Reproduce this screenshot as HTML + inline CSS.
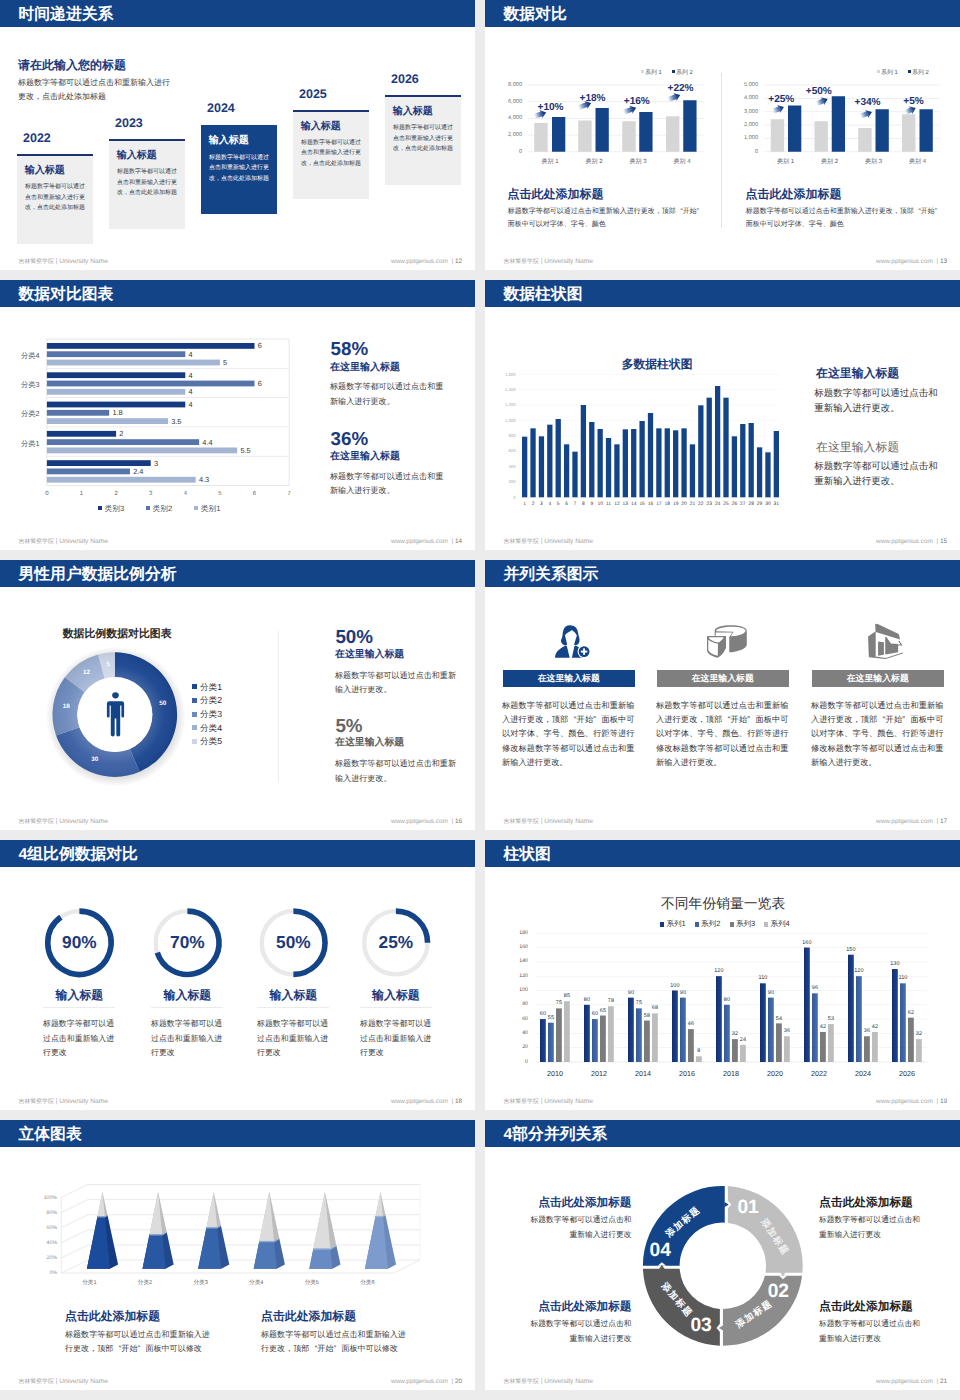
<!DOCTYPE html>
<html lang="zh"><head><meta charset="utf-8"><title>slides</title><style>
html,body{margin:0;padding:0}
body{width:960px;height:1400px;background:#ececec;position:relative;overflow:hidden;font-family:"Liberation Sans",sans-serif;text-rendering:geometricPrecision}
.s{position:absolute;width:475px;height:270px;background:#fff;overflow:hidden}
.h{position:absolute;left:0;top:0;width:475px;height:27px;background:#144488}
.t{position:absolute;white-space:nowrap}
.r{position:absolute}
.jl{text-align:justify;text-align-last:justify;white-space:nowrap}
.jn{white-space:nowrap}
.q{display:inline-block;width:1em}
.ql{text-align:right;text-align-last:right}
.qr{text-align:left;text-align-last:left}
svg{position:absolute;left:0;top:0;overflow:visible}
</style></head><body>
<div class="s" style="left:0px;top:0px"><div class="h"></div><div class="t" style="left:18.5px;top:4.88px;font-size:15.8px;line-height:20.54px;color:#fff;font-weight:bold;">时间递进关系</div><div class="t" style="left:18px;top:57.92px;font-size:12px;line-height:15.6px;color:#1b3a7c;font-weight:bold;">请在此输入您的标题</div><div class="t" style="left:18px;top:75.79px;font-size:8px;line-height:14.5px;color:#383838;">标题数字等都可以通过点击和重新输入进行<br>更改，点击此处添加标题</div><div class="t" style="left:23px;top:129.78px;font-size:12.5px;line-height:16.25px;color:#1b3a7c;font-weight:bold;">2022</div><div class="r" style="left:17px;top:154.5px;width:76px;height:89px;background:#efefef;"></div><div class="r" style="left:17px;top:153.9px;width:76px;height:2.1px;background:#1b3275;"></div><div class="t" style="left:24.8px;top:163.90px;font-size:10px;line-height:13.0px;color:#1b3a7c;font-weight:bold;">输入标题</div><div class="t" style="left:25px;top:182.03px;font-size:6px;line-height:10.5px;color:#3a3a3a;">标题数字等都可以通过<br>点击和重新输入进行更<br>改，点击此处添加标题</div><div class="t" style="left:115px;top:115.03px;font-size:12.5px;line-height:16.25px;color:#1b3a7c;font-weight:bold;">2023</div><div class="r" style="left:109px;top:139.75px;width:76px;height:89px;background:#efefef;"></div><div class="r" style="left:109px;top:139.15px;width:76px;height:2.1px;background:#1b3275;"></div><div class="t" style="left:116.8px;top:149.15px;font-size:10px;line-height:13.0px;color:#1b3a7c;font-weight:bold;">输入标题</div><div class="t" style="left:117px;top:167.28px;font-size:6px;line-height:10.5px;color:#3a3a3a;">标题数字等都可以通过<br>点击和重新输入进行更<br>改，点击此处添加标题</div><div class="t" style="left:207px;top:100.28px;font-size:12.5px;line-height:16.25px;color:#1b3a7c;font-weight:bold;">2024</div><div class="r" style="left:201px;top:124.5px;width:76px;height:89.5px;background:#144488;"></div><div class="t" style="left:208.8px;top:134.40px;font-size:10px;line-height:13.0px;color:#fff;font-weight:bold;">输入标题</div><div class="t" style="left:209px;top:152.53px;font-size:6px;line-height:10.5px;color:#fff;">标题数字等都可以通过<br>点击和重新输入进行更<br>改，点击此处添加标题</div><div class="t" style="left:299px;top:85.53px;font-size:12.5px;line-height:16.25px;color:#1b3a7c;font-weight:bold;">2025</div><div class="r" style="left:293px;top:110.25px;width:76px;height:89px;background:#efefef;"></div><div class="r" style="left:293px;top:109.65px;width:76px;height:2.1px;background:#1b3275;"></div><div class="t" style="left:300.8px;top:119.65px;font-size:10px;line-height:13.0px;color:#1b3a7c;font-weight:bold;">输入标题</div><div class="t" style="left:301px;top:137.78px;font-size:6px;line-height:10.5px;color:#3a3a3a;">标题数字等都可以通过<br>点击和重新输入进行更<br>改，点击此处添加标题</div><div class="t" style="left:391px;top:70.78px;font-size:12.5px;line-height:16.25px;color:#1b3a7c;font-weight:bold;">2026</div><div class="r" style="left:385px;top:95.5px;width:76px;height:89px;background:#efefef;"></div><div class="r" style="left:385px;top:94.9px;width:76px;height:2.1px;background:#1b3275;"></div><div class="t" style="left:392.8px;top:104.90px;font-size:10px;line-height:13.0px;color:#1b3a7c;font-weight:bold;">输入标题</div><div class="t" style="left:393px;top:123.03px;font-size:6px;line-height:10.5px;color:#3a3a3a;">标题数字等都可以通过<br>点击和重新输入进行更<br>改，点击此处添加标题</div><div class="t" style="left:18.5px;top:257.54px;font-size:6.65px;line-height:8.65px;color:#a3a3a3;"><span style="font-size:5.9px">吉林警察学院</span> | University Name</div><div class="t" style="left:362px;top:257.67px;font-size:6.4px;line-height:8.32px;color:#a6a6a6;width:100px;text-align:right;">www.pptgenius.com&nbsp; | <span style="color:#777">12</span></div></div>
<div class="s" style="left:485px;top:0px"><div class="h"></div><div class="t" style="left:18.5px;top:4.88px;font-size:15.8px;line-height:20.54px;color:#fff;font-weight:bold;">数据对比</div><div class="t" style="left:7px;top:82.06px;font-size:5.6px;line-height:7.28px;color:#747474;width:30px;text-align:right;">8,000</div><div class="t" style="left:7px;top:98.75px;font-size:5.6px;line-height:7.28px;color:#747474;width:30px;text-align:right;">6,000</div><div class="t" style="left:7px;top:115.44px;font-size:5.6px;line-height:7.28px;color:#747474;width:30px;text-align:right;">4,000</div><div class="t" style="left:7px;top:132.12px;font-size:5.6px;line-height:7.28px;color:#747474;width:30px;text-align:right;">2,000</div><div class="t" style="left:7px;top:148.81px;font-size:5.6px;line-height:7.28px;color:#747474;width:30px;text-align:right;">0</div><svg width="475" height="270"><rect x="43" y="84.70" width="175.75" height="0.7" fill="#e9e9e9"/><rect x="43" y="101.39" width="175.75" height="0.7" fill="#e9e9e9"/><rect x="43" y="118.08" width="175.75" height="0.7" fill="#e9e9e9"/><rect x="43" y="134.76" width="175.75" height="0.7" fill="#e9e9e9"/><rect x="43" y="151.45" width="175.75" height="0.7" fill="#e9e9e9"/><rect x="49.25" y="123" width="13.4" height="28.75" fill="#d6d6d6"/><rect x="67" y="117" width="13.3" height="34.75" fill="#144488"/><rect x="93.25" y="120.5" width="13.4" height="31.25" fill="#d6d6d6"/><rect x="110.5" y="108" width="13.3" height="43.75" fill="#144488"/><rect x="137.25" y="121.25" width="13.4" height="30.50" fill="#d6d6d6"/><rect x="154.25" y="112" width="13.3" height="39.75" fill="#144488"/><rect x="181" y="116.25" width="13.4" height="35.50" fill="#d6d6d6"/><rect x="198.25" y="100.25" width="13.3" height="51.50" fill="#144488"/><linearGradient id="ag00" gradientUnits="userSpaceOnUse" x1="0" y1="0" x2="12.21" y2="0"><stop offset="0" stop-color="#3a64ad" stop-opacity="0"/><stop offset="0.4" stop-color="#2f5ba6" stop-opacity="0.7"/><stop offset="0.75" stop-color="#1d4187"/><stop offset="1" stop-color="#132f70"/></linearGradient><polygon points="0.00,-2.50 7.01,-2.50 6.41,-4.30 12.21,0.00 6.41,4.30 7.01,2.50 0.00,2.50" fill="url(#ag00)" transform="translate(49.60,116.20) rotate(-18.1)"/><linearGradient id="ag01" gradientUnits="userSpaceOnUse" x1="0" y1="0" x2="13.48" y2="0"><stop offset="0" stop-color="#3a64ad" stop-opacity="0"/><stop offset="0.4" stop-color="#2f5ba6" stop-opacity="0.7"/><stop offset="0.75" stop-color="#1d4187"/><stop offset="1" stop-color="#132f70"/></linearGradient><polygon points="0.00,-2.50 8.28,-2.50 7.68,-4.30 13.48,0.00 7.68,4.30 8.28,2.50 0.00,2.50" fill="url(#ag01)" transform="translate(93.60,107.70) rotate(-20.9)"/><linearGradient id="ag02" gradientUnits="userSpaceOnUse" x1="0" y1="0" x2="13.48" y2="0"><stop offset="0" stop-color="#3a64ad" stop-opacity="0"/><stop offset="0.4" stop-color="#2f5ba6" stop-opacity="0.7"/><stop offset="0.75" stop-color="#1d4187"/><stop offset="1" stop-color="#132f70"/></linearGradient><polygon points="0.00,-2.50 8.28,-2.50 7.68,-4.30 13.48,0.00 7.68,4.30 8.28,2.50 0.00,2.50" fill="url(#ag02)" transform="translate(138.60,112.45) rotate(-20.9)"/><linearGradient id="ag03" gradientUnits="userSpaceOnUse" x1="0" y1="0" x2="13.02" y2="0"><stop offset="0" stop-color="#3a64ad" stop-opacity="0"/><stop offset="0.4" stop-color="#2f5ba6" stop-opacity="0.7"/><stop offset="0.75" stop-color="#1d4187"/><stop offset="1" stop-color="#132f70"/></linearGradient><polygon points="0.00,-2.50 7.82,-2.50 7.22,-4.30 13.02,0.00 7.22,4.30 7.82,2.50 0.00,2.50" fill="url(#ag03)" transform="translate(183.10,99.70) rotate(-21.6)"/></svg><div class="t" style="left:52.5px;top:100.98px;font-size:10.1px;line-height:13.13px;color:#1a3272;font-weight:bold;">+10%</div><div class="t" style="left:94.5px;top:91.73px;font-size:10.1px;line-height:13.13px;color:#1a3272;font-weight:bold;">+18%</div><div class="t" style="left:138.75px;top:94.98px;font-size:10.1px;line-height:13.13px;color:#1a3272;font-weight:bold;">+16%</div><div class="t" style="left:182.5px;top:82.23px;font-size:10.1px;line-height:13.13px;color:#1a3272;font-weight:bold;">+22%</div><div class="t" style="left:45px;top:159.48px;font-size:6px;line-height:7.8px;color:#5a5a5a;width:40px;text-align:center;">类别 1</div><div class="t" style="left:89px;top:159.48px;font-size:6px;line-height:7.8px;color:#5a5a5a;width:40px;text-align:center;">类别 2</div><div class="t" style="left:133px;top:159.48px;font-size:6px;line-height:7.8px;color:#5a5a5a;width:40px;text-align:center;">类别 3</div><div class="t" style="left:177px;top:159.48px;font-size:6px;line-height:7.8px;color:#5a5a5a;width:40px;text-align:center;">类别 4</div><div class="r" style="left:156px;top:70.2px;width:3px;height:3px;background:#d6d6d6;"></div><div class="t" style="left:160px;top:70.03px;font-size:5.9px;line-height:7.67px;color:#555;">系列 1</div><div class="r" style="left:187px;top:70.2px;width:3px;height:3px;background:#153570;"></div><div class="t" style="left:191px;top:70.03px;font-size:5.9px;line-height:7.67px;color:#555;">系列 2</div><div class="t" style="left:243px;top:82.06px;font-size:5.6px;line-height:7.28px;color:#747474;width:30px;text-align:right;">5,000</div><div class="t" style="left:243px;top:95.41px;font-size:5.6px;line-height:7.28px;color:#747474;width:30px;text-align:right;">4,000</div><div class="t" style="left:243px;top:108.76px;font-size:5.6px;line-height:7.28px;color:#747474;width:30px;text-align:right;">3,000</div><div class="t" style="left:243px;top:122.11px;font-size:5.6px;line-height:7.28px;color:#747474;width:30px;text-align:right;">2,000</div><div class="t" style="left:243px;top:135.46px;font-size:5.6px;line-height:7.28px;color:#747474;width:30px;text-align:right;">1,000</div><div class="t" style="left:243px;top:148.81px;font-size:5.6px;line-height:7.28px;color:#747474;width:30px;text-align:right;">0</div><svg width="475" height="270"><rect x="279.5" y="84.70" width="175.0" height="0.7" fill="#e9e9e9"/><rect x="279.5" y="98.05" width="175.0" height="0.7" fill="#e9e9e9"/><rect x="279.5" y="111.40" width="175.0" height="0.7" fill="#e9e9e9"/><rect x="279.5" y="124.75" width="175.0" height="0.7" fill="#e9e9e9"/><rect x="279.5" y="138.10" width="175.0" height="0.7" fill="#e9e9e9"/><rect x="279.5" y="151.45" width="175.0" height="0.7" fill="#e9e9e9"/><rect x="285.75" y="119.25" width="13.4" height="32.50" fill="#d6d6d6"/><rect x="303" y="105.5" width="13.3" height="46.25" fill="#144488"/><rect x="329.5" y="121.25" width="13.4" height="30.50" fill="#d6d6d6"/><rect x="346.75" y="96.25" width="13.3" height="55.50" fill="#144488"/><rect x="373.25" y="128" width="13.4" height="23.75" fill="#d6d6d6"/><rect x="390.5" y="109.25" width="13.3" height="42.50" fill="#144488"/><rect x="417" y="114.25" width="13.4" height="37.50" fill="#d6d6d6"/><rect x="434.5" y="109.25" width="13.3" height="42.50" fill="#144488"/><linearGradient id="ag2350" gradientUnits="userSpaceOnUse" x1="0" y1="0" x2="11.67" y2="0"><stop offset="0" stop-color="#3a64ad" stop-opacity="0"/><stop offset="0.4" stop-color="#2f5ba6" stop-opacity="0.7"/><stop offset="0.75" stop-color="#1d4187"/><stop offset="1" stop-color="#132f70"/></linearGradient><polygon points="0.00,-2.50 6.47,-2.50 5.87,-4.30 11.67,0.00 5.87,4.30 6.47,2.50 0.00,2.50" fill="url(#ag2350)" transform="translate(288.10,111.20) rotate(-21.6)"/><linearGradient id="ag2351" gradientUnits="userSpaceOnUse" x1="0" y1="0" x2="12.09" y2="0"><stop offset="0" stop-color="#3a64ad" stop-opacity="0"/><stop offset="0.4" stop-color="#2f5ba6" stop-opacity="0.7"/><stop offset="0.75" stop-color="#1d4187"/><stop offset="1" stop-color="#132f70"/></linearGradient><polygon points="0.00,-2.50 6.89,-2.50 6.29,-4.30 12.09,0.00 6.29,4.30 6.89,2.50 0.00,2.50" fill="url(#ag2351)" transform="translate(331.60,103.70) rotate(-23.4)"/><linearGradient id="ag2352" gradientUnits="userSpaceOnUse" x1="0" y1="0" x2="12.14" y2="0"><stop offset="0" stop-color="#3a64ad" stop-opacity="0"/><stop offset="0.4" stop-color="#2f5ba6" stop-opacity="0.7"/><stop offset="0.75" stop-color="#1d4187"/><stop offset="1" stop-color="#132f70"/></linearGradient><polygon points="0.00,-2.50 6.94,-2.50 6.34,-4.30 12.14,0.00 6.34,4.30 6.94,2.50 0.00,2.50" fill="url(#ag2352)" transform="translate(375.60,116.20) rotate(-20.7)"/><linearGradient id="ag2353" gradientUnits="userSpaceOnUse" x1="0" y1="0" x2="11.08" y2="0"><stop offset="0" stop-color="#3a64ad" stop-opacity="0"/><stop offset="0.4" stop-color="#2f5ba6" stop-opacity="0.7"/><stop offset="0.75" stop-color="#1d4187"/><stop offset="1" stop-color="#132f70"/></linearGradient><polygon points="0.00,-2.50 5.88,-2.50 5.28,-4.30 11.08,0.00 5.28,4.30 5.88,2.50 0.00,2.50" fill="url(#ag2353)" transform="translate(420.60,112.45) rotate(-24.3)"/></svg><div class="t" style="left:283.25px;top:92.73px;font-size:10.1px;line-height:13.13px;color:#1a3272;font-weight:bold;">+25%</div><div class="t" style="left:320.75px;top:85.48px;font-size:10.1px;line-height:13.13px;color:#1a3272;font-weight:bold;">+50%</div><div class="t" style="left:369.5px;top:96.48px;font-size:10.1px;line-height:13.13px;color:#1a3272;font-weight:bold;">+34%</div><div class="t" style="left:418.25px;top:95.48px;font-size:10.1px;line-height:13.13px;color:#1a3272;font-weight:bold;">+5%</div><div class="t" style="left:280.5px;top:159.48px;font-size:6px;line-height:7.8px;color:#5a5a5a;width:40px;text-align:center;">类别 1</div><div class="t" style="left:324.5px;top:159.48px;font-size:6px;line-height:7.8px;color:#5a5a5a;width:40px;text-align:center;">类别 2</div><div class="t" style="left:368.5px;top:159.48px;font-size:6px;line-height:7.8px;color:#5a5a5a;width:40px;text-align:center;">类别 3</div><div class="t" style="left:412.5px;top:159.48px;font-size:6px;line-height:7.8px;color:#5a5a5a;width:40px;text-align:center;">类别 4</div><div class="r" style="left:392px;top:70.2px;width:3px;height:3px;background:#d6d6d6;"></div><div class="t" style="left:396px;top:70.03px;font-size:5.9px;line-height:7.67px;color:#555;">系列 1</div><div class="r" style="left:422.5px;top:70.2px;width:3px;height:3px;background:#153570;"></div><div class="t" style="left:427px;top:70.03px;font-size:5.9px;line-height:7.67px;color:#555;">系列 2</div><div class="r" style="left:236px;top:72.5px;width:0.8px;height:155px;background:#e4e4e4;"></div><div class="t" style="left:22.5px;top:187.17px;font-size:12px;line-height:15.6px;color:#1b3a7c;font-weight:bold;">点击此处添加标题</div><div class="t" style="left:22.8px;top:204.78px;font-size:7px;line-height:13.25px;color:#383838;">标题数字等都可以通过点击和重新输入进行更改，顶部<span class="q ql">“</span>开始<span class="q qr">”</span><br>面板中可以对字体、字号、颜色</div><div class="t" style="left:260.5px;top:187.17px;font-size:12px;line-height:15.6px;color:#1b3a7c;font-weight:bold;">点击此处添加标题</div><div class="t" style="left:260.8px;top:204.78px;font-size:7px;line-height:13.25px;color:#383838;">标题数字等都可以通过点击和重新输入进行更改，顶部<span class="q ql">“</span>开始<span class="q qr">”</span><br>面板中可以对字体、字号、颜色</div><div class="t" style="left:18.5px;top:257.54px;font-size:6.65px;line-height:8.65px;color:#a3a3a3;"><span style="font-size:5.9px">吉林警察学院</span> | University Name</div><div class="t" style="left:362px;top:257.67px;font-size:6.4px;line-height:8.32px;color:#a6a6a6;width:100px;text-align:right;">www.pptgenius.com&nbsp; | <span style="color:#777">13</span></div></div>
<div class="s" style="left:0px;top:280px"><div class="h"></div><div class="t" style="left:18.5px;top:4.88px;font-size:15.8px;line-height:20.54px;color:#fff;font-weight:bold;">数据对比图表</div><svg width="475" height="270"><rect x="46.9" y="59" width="242.20" height="146.50" fill="#fff" stroke="#dcdcdc" stroke-width="0.7"/><rect x="46.9" y="87.95" width="242.20" height="0.7" fill="#e3e3e3"/><rect x="46.9" y="117.25" width="242.20" height="0.7" fill="#e3e3e3"/><rect x="46.9" y="146.55" width="242.20" height="0.7" fill="#e3e3e3"/><rect x="46.9" y="175.85" width="242.20" height="0.7" fill="#e3e3e3"/><rect x="46.9" y="63.00" width="207.60" height="5.8" fill="#153a80"/><rect x="46.9" y="71.30" width="138.40" height="5.8" fill="#5674aa"/><rect x="46.9" y="79.60" width="173.00" height="5.8" fill="#a4b4d3"/><rect x="46.9" y="92.30" width="138.40" height="5.8" fill="#153a80"/><rect x="46.9" y="100.60" width="207.60" height="5.8" fill="#5674aa"/><rect x="46.9" y="108.90" width="138.40" height="5.8" fill="#a4b4d3"/><rect x="46.9" y="121.60" width="138.40" height="5.8" fill="#153a80"/><rect x="46.9" y="129.90" width="62.28" height="5.8" fill="#5674aa"/><rect x="46.9" y="138.20" width="121.10" height="5.8" fill="#a4b4d3"/><rect x="46.9" y="150.90" width="69.20" height="5.8" fill="#153a80"/><rect x="46.9" y="159.20" width="152.24" height="5.8" fill="#5674aa"/><rect x="46.9" y="167.50" width="190.30" height="5.8" fill="#a4b4d3"/><rect x="46.9" y="180.20" width="103.80" height="5.8" fill="#153a80"/><rect x="46.9" y="188.50" width="83.04" height="5.8" fill="#5674aa"/><rect x="46.9" y="196.80" width="148.78" height="5.8" fill="#a4b4d3"/></svg><div class="t" style="left:0px;top:70.75px;font-size:7.3px;line-height:9.49px;color:#555;width:39.6px;text-align:right;">分类4</div><div class="t" style="left:257.70000000000005px;top:61.49px;font-size:7.4px;line-height:9.62px;color:#333;">6</div><div class="t" style="left:188.5px;top:69.79px;font-size:7.4px;line-height:9.62px;color:#333;">4</div><div class="t" style="left:223.1px;top:78.09px;font-size:7.4px;line-height:9.62px;color:#333;">5</div><div class="t" style="left:0px;top:100.05px;font-size:7.3px;line-height:9.49px;color:#555;width:39.6px;text-align:right;">分类3</div><div class="t" style="left:188.5px;top:90.79px;font-size:7.4px;line-height:9.62px;color:#333;">4</div><div class="t" style="left:257.70000000000005px;top:99.09px;font-size:7.4px;line-height:9.62px;color:#333;">6</div><div class="t" style="left:188.5px;top:107.39px;font-size:7.4px;line-height:9.62px;color:#333;">4</div><div class="t" style="left:0px;top:129.35px;font-size:7.3px;line-height:9.49px;color:#555;width:39.6px;text-align:right;">分类2</div><div class="t" style="left:188.5px;top:120.09px;font-size:7.4px;line-height:9.62px;color:#333;">4</div><div class="t" style="left:112.38000000000001px;top:128.39px;font-size:7.4px;line-height:9.62px;color:#333;">1.8</div><div class="t" style="left:171.2px;top:136.69px;font-size:7.4px;line-height:9.62px;color:#333;">3.5</div><div class="t" style="left:0px;top:158.65px;font-size:7.3px;line-height:9.49px;color:#555;width:39.6px;text-align:right;">分类1</div><div class="t" style="left:119.3px;top:149.39px;font-size:7.4px;line-height:9.62px;color:#333;">2</div><div class="t" style="left:202.34px;top:157.69px;font-size:7.4px;line-height:9.62px;color:#333;">4.4</div><div class="t" style="left:240.4px;top:165.99px;font-size:7.4px;line-height:9.62px;color:#333;">5.5</div><div class="t" style="left:153.9px;top:178.69px;font-size:7.4px;line-height:9.62px;color:#333;">3</div><div class="t" style="left:133.14px;top:186.99px;font-size:7.4px;line-height:9.62px;color:#333;">2.4</div><div class="t" style="left:198.88px;top:195.29px;font-size:7.4px;line-height:9.62px;color:#333;">4.3</div><div class="t" style="left:36.9px;top:211.00px;font-size:6px;line-height:7.8px;color:#666;width:20px;text-align:center;">0</div><div class="t" style="left:71.5px;top:211.00px;font-size:6px;line-height:7.8px;color:#666;width:20px;text-align:center;">1</div><div class="t" style="left:106.1px;top:211.00px;font-size:6px;line-height:7.8px;color:#666;width:20px;text-align:center;">2</div><div class="t" style="left:140.70000000000002px;top:211.00px;font-size:6px;line-height:7.8px;color:#666;width:20px;text-align:center;">3</div><div class="t" style="left:175.3px;top:211.00px;font-size:6px;line-height:7.8px;color:#666;width:20px;text-align:center;">4</div><div class="t" style="left:209.9px;top:211.00px;font-size:6px;line-height:7.8px;color:#666;width:20px;text-align:center;">5</div><div class="t" style="left:244.50000000000003px;top:211.00px;font-size:6px;line-height:7.8px;color:#666;width:20px;text-align:center;">6</div><div class="t" style="left:279.1px;top:211.00px;font-size:6px;line-height:7.8px;color:#666;width:20px;text-align:center;">7</div><div class="r" style="left:97.8px;top:226.2px;width:4.3px;height:4.3px;background:#153a80;"></div><div class="t" style="left:104.6px;top:223.80px;font-size:7.7px;line-height:10.01px;color:#4a4a4a;">类别3</div><div class="r" style="left:145.6px;top:226.2px;width:4.3px;height:4.3px;background:#5674aa;"></div><div class="t" style="left:152.6px;top:223.80px;font-size:7.7px;line-height:10.01px;color:#4a4a4a;">类别2</div><div class="r" style="left:194px;top:226.2px;width:4.3px;height:4.3px;background:#a4b4d3;"></div><div class="t" style="left:200.79999999999998px;top:223.80px;font-size:7.7px;line-height:10.01px;color:#4a4a4a;">类别1</div><div class="t" style="left:330.5px;top:57.18px;font-size:18.8px;line-height:24.44px;color:#1b3a7c;font-weight:bold;">58%</div><div class="t" style="left:330px;top:80.70px;font-size:10px;line-height:13.0px;color:#1b3a7c;font-weight:bold;">在这里输入标题</div><div class="t" style="left:330px;top:100.30px;font-size:8.1px;line-height:14.5px;color:#383838;">标题数字等都可以通过点击和重<br>新输入进行更改。</div><div class="t" style="left:330.5px;top:147.48px;font-size:18.8px;line-height:24.44px;color:#1b3a7c;font-weight:bold;">36%</div><div class="t" style="left:330px;top:170.35px;font-size:10px;line-height:13.0px;color:#1b3a7c;font-weight:bold;">在这里输入标题</div><div class="t" style="left:330px;top:189.80px;font-size:8.1px;line-height:14.5px;color:#383838;">标题数字等都可以通过点击和重<br>新输入进行更改。</div><div class="t" style="left:18.5px;top:257.54px;font-size:6.65px;line-height:8.65px;color:#a3a3a3;"><span style="font-size:5.9px">吉林警察学院</span> | University Name</div><div class="t" style="left:362px;top:257.67px;font-size:6.4px;line-height:8.32px;color:#a6a6a6;width:100px;text-align:right;">www.pptgenius.com&nbsp; | <span style="color:#777">14</span></div></div>
<div class="s" style="left:485px;top:280px"><div class="h"></div><div class="t" style="left:18.5px;top:4.88px;font-size:15.8px;line-height:20.54px;color:#fff;font-weight:bold;">数据柱状图</div><svg width="475" height="270"><rect x="33.3" y="94.00" width="262" height="0.6" fill="#f6f6f6"/><rect x="33.3" y="109.38" width="262" height="0.6" fill="#f6f6f6"/><rect x="33.3" y="124.75" width="262" height="0.6" fill="#f6f6f6"/><rect x="33.3" y="140.12" width="262" height="0.6" fill="#f6f6f6"/><rect x="33.3" y="155.50" width="262" height="0.6" fill="#f6f6f6"/><rect x="33.3" y="170.88" width="262" height="0.6" fill="#f6f6f6"/><rect x="33.3" y="186.25" width="262" height="0.6" fill="#f6f6f6"/><rect x="33.3" y="201.62" width="262" height="0.6" fill="#f6f6f6"/><rect x="33.3" y="217.00" width="262" height="0.6" fill="#f6f6f6"/><rect x="37.00" y="156.67" width="5.3" height="60.63" fill="#144488"/><rect x="45.39" y="148.33" width="5.3" height="68.97" fill="#144488"/><rect x="53.78" y="156.33" width="5.3" height="60.97" fill="#144488"/><rect x="62.17" y="144.67" width="5.3" height="72.63" fill="#144488"/><rect x="70.56" y="139.00" width="5.3" height="78.30" fill="#144488"/><rect x="78.95" y="164.33" width="5.3" height="52.97" fill="#144488"/><rect x="87.34" y="171.67" width="5.3" height="45.63" fill="#144488"/><rect x="95.73" y="125.00" width="5.3" height="92.30" fill="#144488"/><rect x="104.12" y="142.00" width="5.3" height="75.30" fill="#144488"/><rect x="112.51" y="149.00" width="5.3" height="68.30" fill="#144488"/><rect x="120.90" y="158.00" width="5.3" height="59.30" fill="#144488"/><rect x="129.29" y="164.33" width="5.3" height="52.97" fill="#144488"/><rect x="137.68" y="149.33" width="5.3" height="67.97" fill="#144488"/><rect x="146.07" y="149.00" width="5.3" height="68.30" fill="#144488"/><rect x="154.46" y="141.00" width="5.3" height="76.30" fill="#144488"/><rect x="162.85" y="133.00" width="5.3" height="84.30" fill="#144488"/><rect x="171.24" y="148.33" width="5.3" height="68.97" fill="#144488"/><rect x="179.63" y="148.33" width="5.3" height="68.97" fill="#144488"/><rect x="188.02" y="150.33" width="5.3" height="66.97" fill="#144488"/><rect x="196.41" y="148.33" width="5.3" height="68.97" fill="#144488"/><rect x="204.80" y="164.33" width="5.3" height="52.97" fill="#144488"/><rect x="213.19" y="125.33" width="5.3" height="91.97" fill="#144488"/><rect x="221.58" y="117.67" width="5.3" height="99.63" fill="#144488"/><rect x="229.97" y="106.00" width="5.3" height="111.30" fill="#144488"/><rect x="238.36" y="117.67" width="5.3" height="99.63" fill="#144488"/><rect x="246.75" y="156.33" width="5.3" height="60.97" fill="#144488"/><rect x="255.14" y="144.00" width="5.3" height="73.30" fill="#144488"/><rect x="263.53" y="143.00" width="5.3" height="74.30" fill="#144488"/><rect x="271.92" y="167.33" width="5.3" height="49.97" fill="#144488"/><rect x="280.31" y="172.33" width="5.3" height="44.97" fill="#144488"/><rect x="288.70" y="151.00" width="5.3" height="66.30" fill="#144488"/></svg><div class="t" style="left:136.7px;top:77.34px;font-size:11.8px;line-height:15.34px;color:#1b3a7c;font-weight:bold;">多数据柱状图</div><div class="t" style="left:0px;top:91.57px;font-size:4.2px;line-height:5.46px;color:#a8a8a8;width:30.5px;text-align:right;">1,600</div><div class="t" style="left:0px;top:106.94px;font-size:4.2px;line-height:5.46px;color:#a8a8a8;width:30.5px;text-align:right;">1,400</div><div class="t" style="left:0px;top:122.32px;font-size:4.2px;line-height:5.46px;color:#a8a8a8;width:30.5px;text-align:right;">1,200</div><div class="t" style="left:0px;top:137.70px;font-size:4.2px;line-height:5.46px;color:#a8a8a8;width:30.5px;text-align:right;">1,000</div><div class="t" style="left:0px;top:153.07px;font-size:4.2px;line-height:5.46px;color:#a8a8a8;width:30.5px;text-align:right;">800</div><div class="t" style="left:0px;top:168.45px;font-size:4.2px;line-height:5.46px;color:#a8a8a8;width:30.5px;text-align:right;">600</div><div class="t" style="left:0px;top:183.82px;font-size:4.2px;line-height:5.46px;color:#a8a8a8;width:30.5px;text-align:right;">400</div><div class="t" style="left:0px;top:199.20px;font-size:4.2px;line-height:5.46px;color:#a8a8a8;width:30.5px;text-align:right;">200</div><div class="t" style="left:0px;top:214.57px;font-size:4.2px;line-height:5.46px;color:#a8a8a8;width:30.5px;text-align:right;">0</div><div class="t" style="left:33.65px;top:222.12px;font-size:4.9px;line-height:6.37px;color:#3a3a3a;width:12px;text-align:center;">1</div><div class="t" style="left:42.04px;top:222.12px;font-size:4.9px;line-height:6.37px;color:#3a3a3a;width:12px;text-align:center;">2</div><div class="t" style="left:50.43px;top:222.12px;font-size:4.9px;line-height:6.37px;color:#3a3a3a;width:12px;text-align:center;">3</div><div class="t" style="left:58.82000000000001px;top:222.12px;font-size:4.9px;line-height:6.37px;color:#3a3a3a;width:12px;text-align:center;">4</div><div class="t" style="left:67.21000000000001px;top:222.12px;font-size:4.9px;line-height:6.37px;color:#3a3a3a;width:12px;text-align:center;">5</div><div class="t" style="left:75.60000000000001px;top:222.12px;font-size:4.9px;line-height:6.37px;color:#3a3a3a;width:12px;text-align:center;">6</div><div class="t" style="left:83.99000000000001px;top:222.12px;font-size:4.9px;line-height:6.37px;color:#3a3a3a;width:12px;text-align:center;">7</div><div class="t" style="left:92.38000000000001px;top:222.12px;font-size:4.9px;line-height:6.37px;color:#3a3a3a;width:12px;text-align:center;">8</div><div class="t" style="left:100.77000000000001px;top:222.12px;font-size:4.9px;line-height:6.37px;color:#3a3a3a;width:12px;text-align:center;">9</div><div class="t" style="left:109.16000000000001px;top:222.12px;font-size:4.9px;line-height:6.37px;color:#3a3a3a;width:12px;text-align:center;">10</div><div class="t" style="left:117.55000000000001px;top:222.12px;font-size:4.9px;line-height:6.37px;color:#3a3a3a;width:12px;text-align:center;">11</div><div class="t" style="left:125.94000000000003px;top:222.12px;font-size:4.9px;line-height:6.37px;color:#3a3a3a;width:12px;text-align:center;">12</div><div class="t" style="left:134.33px;top:222.12px;font-size:4.9px;line-height:6.37px;color:#3a3a3a;width:12px;text-align:center;">13</div><div class="t" style="left:142.72px;top:222.12px;font-size:4.9px;line-height:6.37px;color:#3a3a3a;width:12px;text-align:center;">14</div><div class="t" style="left:151.11px;top:222.12px;font-size:4.9px;line-height:6.37px;color:#3a3a3a;width:12px;text-align:center;">15</div><div class="t" style="left:159.50000000000003px;top:222.12px;font-size:4.9px;line-height:6.37px;color:#3a3a3a;width:12px;text-align:center;">16</div><div class="t" style="left:167.89000000000001px;top:222.12px;font-size:4.9px;line-height:6.37px;color:#3a3a3a;width:12px;text-align:center;">17</div><div class="t" style="left:176.28px;top:222.12px;font-size:4.9px;line-height:6.37px;color:#3a3a3a;width:12px;text-align:center;">18</div><div class="t" style="left:184.67000000000002px;top:222.12px;font-size:4.9px;line-height:6.37px;color:#3a3a3a;width:12px;text-align:center;">19</div><div class="t" style="left:193.06000000000003px;top:222.12px;font-size:4.9px;line-height:6.37px;color:#3a3a3a;width:12px;text-align:center;">20</div><div class="t" style="left:201.45000000000002px;top:222.12px;font-size:4.9px;line-height:6.37px;color:#3a3a3a;width:12px;text-align:center;">21</div><div class="t" style="left:209.84px;top:222.12px;font-size:4.9px;line-height:6.37px;color:#3a3a3a;width:12px;text-align:center;">22</div><div class="t" style="left:218.23000000000002px;top:222.12px;font-size:4.9px;line-height:6.37px;color:#3a3a3a;width:12px;text-align:center;">23</div><div class="t" style="left:226.62000000000003px;top:222.12px;font-size:4.9px;line-height:6.37px;color:#3a3a3a;width:12px;text-align:center;">24</div><div class="t" style="left:235.01000000000002px;top:222.12px;font-size:4.9px;line-height:6.37px;color:#3a3a3a;width:12px;text-align:center;">25</div><div class="t" style="left:243.4px;top:222.12px;font-size:4.9px;line-height:6.37px;color:#3a3a3a;width:12px;text-align:center;">26</div><div class="t" style="left:251.79000000000002px;top:222.12px;font-size:4.9px;line-height:6.37px;color:#3a3a3a;width:12px;text-align:center;">27</div><div class="t" style="left:260.18px;top:222.12px;font-size:4.9px;line-height:6.37px;color:#3a3a3a;width:12px;text-align:center;">28</div><div class="t" style="left:268.57px;top:222.12px;font-size:4.9px;line-height:6.37px;color:#3a3a3a;width:12px;text-align:center;">29</div><div class="t" style="left:276.96px;top:222.12px;font-size:4.9px;line-height:6.37px;color:#3a3a3a;width:12px;text-align:center;">30</div><div class="t" style="left:285.35px;top:222.12px;font-size:4.9px;line-height:6.37px;color:#3a3a3a;width:12px;text-align:center;">31</div><div class="t" style="left:331px;top:85.78px;font-size:11.9px;line-height:15.47px;color:#1b3a7c;font-weight:bold;">在这里输入标题</div><div class="t" style="left:329.2px;top:105.69px;font-size:9.5px;line-height:15.7px;color:#333;">标题数字等都可以通过点击和<br>重新输入进行更改。</div><div class="t" style="left:331px;top:160.41px;font-size:11.9px;line-height:15.47px;color:#666;">在这里输入标题</div><div class="t" style="left:329.2px;top:178.59px;font-size:9.5px;line-height:15.7px;color:#333;">标题数字等都可以通过点击和<br>重新输入进行更改。</div><div class="t" style="left:18.5px;top:257.54px;font-size:6.65px;line-height:8.65px;color:#a3a3a3;"><span style="font-size:5.9px">吉林警察学院</span> | University Name</div><div class="t" style="left:362px;top:257.67px;font-size:6.4px;line-height:8.32px;color:#a6a6a6;width:100px;text-align:right;">www.pptgenius.com&nbsp; | <span style="color:#777">15</span></div></div>
<div class="s" style="left:0px;top:560px"><div class="h"></div><div class="t" style="left:18.5px;top:4.88px;font-size:15.8px;line-height:20.54px;color:#fff;font-weight:bold;">男性用户数据比例分析</div><div class="t" style="left:62.7px;top:67.07px;font-size:10.9px;line-height:14.17px;color:#2b2b2b;font-weight:bold;">数据比例数据对比图表</div><svg width="475" height="270"><defs><radialGradient id="dsh" gradientUnits="userSpaceOnUse" cx="115.8" cy="156.6" r="70"><stop offset="0.86" stop-color="#000" stop-opacity="0.13"/><stop offset="1" stop-color="#000" stop-opacity="0"/></radialGradient><radialGradient id="dhl" gradientUnits="userSpaceOnUse" cx="114.8" cy="154.6" r="62.3"><stop offset="0.6" stop-color="#fff" stop-opacity="0.16"/><stop offset="0.8" stop-color="#fff" stop-opacity="0.03"/><stop offset="1" stop-color="#000" stop-opacity="0.05"/></radialGradient><radialGradient id="dih" gradientUnits="userSpaceOnUse" cx="114.8" cy="154.6" r="40.0"><stop offset="0.86" stop-color="#000" stop-opacity="0"/><stop offset="1" stop-color="#000" stop-opacity="0.12"/></radialGradient></defs><circle cx="115.8" cy="156.6" r="70" fill="url(#dsh)"/><path d="M114.80,92.30 A62.3,62.3 0 0 1 139.62,211.74 L129.74,189.00 A37.5,37.5 0 0 0 114.80,117.10 Z" fill="#1b4690"/><path d="M139.62,211.74 A62.3,62.3 0 0 1 56.10,175.46 L79.47,167.16 A37.5,37.5 0 0 0 129.74,189.00 Z" fill="#3b60a4"/><path d="M56.10,175.46 A62.3,62.3 0 0 1 64.90,117.30 L84.77,132.15 A37.5,37.5 0 0 0 79.47,167.16 Z" fill="#6d8abd"/><path d="M64.90,117.30 A62.3,62.3 0 0 1 97.99,94.61 L104.68,118.49 A37.5,37.5 0 0 0 84.77,132.15 Z" fill="#9db0d2"/><path d="M97.99,94.61 A62.3,62.3 0 0 1 114.80,92.30 L114.80,117.10 A37.5,37.5 0 0 0 104.68,118.49 Z" fill="#cbd5e7"/><circle cx="114.8" cy="154.6" r="62.3" fill="url(#dhl)"/><circle cx="114.8" cy="154.6" r="37.5" fill="#fff"/><ellipse cx="115.5" cy="135.3" rx="3.3" ry="3.1" fill="#144488"/><path d="M109.3,141.2 h12.4 q2.4,0 2.4,2.4 v12.6 q0,1.4 -1.4,1.4 q-1.3,0 -1.3,-1.4 v-10.6 h-1.2 v29.2 q0,1.7 -2,1.7 q-1.9,0 -1.9,-1.7 v-16.4 h-1.6 v16.4 q0,1.7 -1.9,1.7 q-2,0 -2,-1.7 v-29.2 h-1.2 v10.6 q0,1.4 -1.3,1.4 q-1.4,0 -1.4,-1.4 v-12.6 q0,-2.4 2.4,-2.4 z" fill="#144488"/></svg><div class="t" style="left:152.7px;top:140.30px;font-size:6.3px;line-height:8.19px;color:#fff;font-weight:bold;width:20px;text-align:center;">50</div><div class="t" style="left:84.8px;top:196.30px;font-size:6.3px;line-height:8.19px;color:#fff;font-weight:bold;width:20px;text-align:center;">30</div><div class="t" style="left:56.2px;top:143.20px;font-size:6.3px;line-height:8.19px;color:#fff;font-weight:bold;width:20px;text-align:center;">18</div><div class="t" style="left:76.6px;top:109.41px;font-size:6.3px;line-height:8.19px;color:#fff;font-weight:bold;width:20px;text-align:center;">12</div><div class="t" style="left:97.9px;top:100.61px;font-size:6.3px;line-height:8.19px;color:#fff;font-weight:bold;width:20px;text-align:center;">5</div><div class="r" style="left:192.1px;top:124.3px;width:5px;height:5px;background:#1b4690;"></div><div class="t" style="left:199.9px;top:121.78px;font-size:8.7px;line-height:11.31px;color:#2e2e2e;">分类1</div><div class="r" style="left:192.1px;top:137.92px;width:5px;height:5px;background:#3b60a4;"></div><div class="t" style="left:199.9px;top:135.40px;font-size:8.7px;line-height:11.31px;color:#2e2e2e;">分类2</div><div class="r" style="left:192.1px;top:151.54px;width:5px;height:5px;background:#6d8abd;"></div><div class="t" style="left:199.9px;top:149.02px;font-size:8.7px;line-height:11.31px;color:#2e2e2e;">分类3</div><div class="r" style="left:192.1px;top:165.16px;width:5px;height:5px;background:#9db0d2;"></div><div class="t" style="left:199.9px;top:162.64px;font-size:8.7px;line-height:11.31px;color:#2e2e2e;">分类4</div><div class="r" style="left:192.1px;top:178.78px;width:5px;height:5px;background:#cbd5e7;"></div><div class="t" style="left:199.9px;top:176.26px;font-size:8.7px;line-height:11.31px;color:#2e2e2e;">分类5</div><div class="r" style="left:277.8px;top:71px;width:0.9px;height:152px;background:#ededed;"></div><div class="t" style="left:335.4px;top:64.78px;font-size:18.8px;line-height:24.44px;color:#1b3a7c;font-weight:bold;">50%</div><div class="t" style="left:335px;top:88.56px;font-size:9.9px;line-height:12.87px;color:#1b3a7c;font-weight:bold;">在这里输入标题</div><div class="t" style="left:335px;top:108.60px;font-size:8.07px;line-height:13.9px;color:#383838;">标题数字等都可以通过点击和重新<br>输入进行更改。</div><div class="t" style="left:335.4px;top:153.78px;font-size:18.8px;line-height:24.44px;color:#666;font-weight:bold;">5%</div><div class="t" style="left:335px;top:176.96px;font-size:9.9px;line-height:12.87px;color:#606060;font-weight:bold;">在这里输入标题</div><div class="t" style="left:335px;top:196.20px;font-size:8.07px;line-height:15.1px;color:#383838;">标题数字等都可以通过点击和重新<br>输入进行更改。</div><div class="t" style="left:18.5px;top:257.54px;font-size:6.65px;line-height:8.65px;color:#a3a3a3;"><span style="font-size:5.9px">吉林警察学院</span> | University Name</div><div class="t" style="left:362px;top:257.67px;font-size:6.4px;line-height:8.32px;color:#a6a6a6;width:100px;text-align:right;">www.pptgenius.com&nbsp; | <span style="color:#777">16</span></div></div>
<div class="s" style="left:485px;top:560px"><div class="h"></div><div class="t" style="left:18.5px;top:4.88px;font-size:15.8px;line-height:20.54px;color:#fff;font-weight:bold;">并列关系图示</div><svg width="475" height="270"><path d="M84.69,65.31 C78.75,65.31 77.81,71.25 77.50,75.62 C76.88,79.38 75.31,80.00 76.38,82.50 C77.81,85.31 80.62,86.25 82.19,84.38 L80.00,75.62 C80.62,73.12 85.00,71.88 86.88,70.00 C88.12,71.56 90.62,72.19 91.88,75.62 L89.06,84.38 C91.25,86.25 94.06,84.38 94.50,81.25 C95.00,78.75 93.44,75.62 93.12,73.12 C92.50,68.12 90.00,65.31 84.69,65.31 Z" fill="#144488"/><path d="M70.00,97.81 C70.31,92.50 72.50,90.00 80.62,85.62 L81.88,86.25 L84.69,97.81 Z" fill="#144488"/><path d="M86.88,97.81 L89.38,86.25 L90.62,85.62 C95.00,87.81 97.50,90.00 100.00,97.81 Z" fill="#144488"/><circle cx="99.06" cy="91.56" r="6.5" fill="#fff"/><circle cx="99.06" cy="91.56" r="5.4" fill="#144488"/><rect x="95.86" y="90.61" width="6.4" height="1.9" fill="#fff"/><rect x="98.11" y="88.36" width="1.9" height="6.4" fill="#fff"/><path d="M229.69,70.68 C229.69,63.39 261.77,63.39 261.77,70.68 L261.77,84.90 C261.04,89.27 250.83,91.82 244.27,92.33 L244.27,76.88 L247.55,72.50 L230.78,72.50 L230.78,75.78 L229.69,75.78 Z" fill="#7f7f7f"/><path d="M231.00,71.19 C231.88,65.21 260.31,65.21 260.61,70.68 C260.31,73.59 253.75,75.78 245.88,76.29 L248.65,71.63 Z" fill="#fff"/><path d="M222.03,75.93 L240.99,75.93 L240.99,87.81 C239.17,92.92 235.52,96.56 232.60,97.66 C226.77,96.56 222.76,93.65 222.03,90.73 Z" fill="#7f7f7f"/><path d="M223.27,79.79 C226.77,82.34 230.42,83.44 232.97,83.80 L232.75,95.83 C227.50,94.74 224.22,92.55 223.27,90.00 Z" fill="#fff"/><path d="M223.85,77.24 L238.80,77.24 C236.98,80.16 234.79,81.98 233.19,82.56 C229.69,82.13 226.04,80.16 223.85,78.19 Z" fill="#fff"/><path d="M390.16,64.33 L392.13,63.75 L413.71,74.10 L415.17,79.43 L390.67,71.92 Z" fill="#7f7f7f"/><path d="M383.08,76.51 L390.67,71.19 L390.67,98.02 L383.81,97.29 Z" fill="#7f7f7f"/><path d="M393.07,81.62 L398.91,82.13 L398.91,94.74 L393.07,95.83 Z" fill="#7f7f7f"/><path d="M400.22,76.88 L401.46,76.88 L405.83,83.58 L413.13,84.02 L413.13,92.33 L400.22,94.52 Z" fill="#7f7f7f"/><path d="M413.13,81.10 L414.58,80.96 L417.65,85.48 L413.13,85.48 L413.13,84.53 L415.68,84.53 Z" fill="#7f7f7f"/><path d="M390.67,96.56 L400.73,98.02 L417.87,92.55 L417.87,93.50 L400.73,99.04 L390.67,98.02 Z" fill="#7f7f7f"/></svg><div class="r" style="left:18px;top:110px;width:131.5px;height:16.6px;background:#144488;"></div><div class="t" style="left:18px;top:112.75px;font-size:8.9px;line-height:11.57px;color:#fff;font-weight:bold;width:131.5px;text-align:center;">在这里输入标题</div><div class="t j" style="left:17px;top:138.94px;width:132.5px;font-size:8.2px;line-height:14.25px;color:#333"><div class="jl">标题数字等都可以通过点击和重新输</div><div class="jl">入进行更改，顶部<span class="q ql">“</span>开始<span class="q qr">”</span>面板中可</div><div class="jl">以对字体、字号、颜色、行距等进行</div><div class="jl">修改标题数字等都可以通过点击和重</div><div class="jn">新输入进行更改。</div></div><div class="r" style="left:172px;top:110px;width:131.5px;height:16.6px;background:#7f7f7f;"></div><div class="t" style="left:172px;top:112.75px;font-size:8.9px;line-height:11.57px;color:#fff;font-weight:bold;width:131.5px;text-align:center;">在这里输入标题</div><div class="t j" style="left:171px;top:138.94px;width:132.5px;font-size:8.2px;line-height:14.25px;color:#333"><div class="jl">标题数字等都可以通过点击和重新输</div><div class="jl">入进行更改，顶部<span class="q ql">“</span>开始<span class="q qr">”</span>面板中可</div><div class="jl">以对字体、字号、颜色、行距等进行</div><div class="jl">修改标题数字等都可以通过点击和重</div><div class="jn">新输入进行更改。</div></div><div class="r" style="left:327px;top:110px;width:131.5px;height:16.6px;background:#7f7f7f;"></div><div class="t" style="left:327px;top:112.75px;font-size:8.9px;line-height:11.57px;color:#fff;font-weight:bold;width:131.5px;text-align:center;">在这里输入标题</div><div class="t j" style="left:326px;top:138.94px;width:132.5px;font-size:8.2px;line-height:14.25px;color:#333"><div class="jl">标题数字等都可以通过点击和重新输</div><div class="jl">入进行更改，顶部<span class="q ql">“</span>开始<span class="q qr">”</span>面板中可</div><div class="jl">以对字体、字号、颜色、行距等进行</div><div class="jl">修改标题数字等都可以通过点击和重</div><div class="jn">新输入进行更改。</div></div><div class="t" style="left:18.5px;top:257.54px;font-size:6.65px;line-height:8.65px;color:#a3a3a3;"><span style="font-size:5.9px">吉林警察学院</span> | University Name</div><div class="t" style="left:362px;top:257.67px;font-size:6.4px;line-height:8.32px;color:#a6a6a6;width:100px;text-align:right;">www.pptgenius.com&nbsp; | <span style="color:#777">17</span></div></div>
<div class="s" style="left:0px;top:840px"><div class="h"></div><div class="t" style="left:18.5px;top:4.88px;font-size:15.8px;line-height:20.54px;color:#fff;font-weight:bold;">4组比例数据对比</div><svg width="475" height="270"><circle cx="79.4" cy="102.75" r="31.65" fill="none" stroke="#e9e9e9" stroke-width="4.4"/><path d="M79.4,71.1 A31.65,31.65 0 1 1 60.80,77.14" fill="none" stroke="#144488" stroke-width="5.6"/><circle cx="187.4" cy="102.75" r="31.65" fill="none" stroke="#e9e9e9" stroke-width="4.4"/><path d="M187.4,71.1 A31.65,31.65 0 1 1 157.30,112.53" fill="none" stroke="#144488" stroke-width="5.6"/><circle cx="293.4" cy="102.75" r="31.65" fill="none" stroke="#e9e9e9" stroke-width="4.4"/><path d="M293.4,71.1 A31.65,31.65 0 0 1 293.40,134.40" fill="none" stroke="#144488" stroke-width="5.6"/><circle cx="395.9" cy="102.75" r="31.65" fill="none" stroke="#e9e9e9" stroke-width="4.4"/><path d="M395.9,71.1 A31.65,31.65 0 0 1 427.55,102.75" fill="none" stroke="#144488" stroke-width="5.6"/></svg><div class="t" style="left:49.400000000000006px;top:91.05px;font-size:17.3px;line-height:22.49px;color:#1b3a7c;font-weight:bold;width:60px;text-align:center;">90%</div><div class="t" style="left:39.400000000000006px;top:147.98px;font-size:11.9px;line-height:15.47px;color:#1b3a7c;font-weight:bold;width:80px;text-align:center;">输入标题</div><div class="r" style="left:43px;top:166.7px;width:72px;height:0.7px;background:#ebebeb;"></div><div class="t" style="left:43px;top:177.38px;font-size:7.92px;line-height:14.5px;color:#383838;">标题数字等都可以通<br>过点击和重新输入进<br>行更改</div><div class="t" style="left:157.4px;top:91.05px;font-size:17.3px;line-height:22.49px;color:#1b3a7c;font-weight:bold;width:60px;text-align:center;">70%</div><div class="t" style="left:147.4px;top:147.98px;font-size:11.9px;line-height:15.47px;color:#1b3a7c;font-weight:bold;width:80px;text-align:center;">输入标题</div><div class="r" style="left:151px;top:166.7px;width:72px;height:0.7px;background:#ebebeb;"></div><div class="t" style="left:151px;top:177.38px;font-size:7.92px;line-height:14.5px;color:#383838;">标题数字等都可以通<br>过点击和重新输入进<br>行更改</div><div class="t" style="left:263.4px;top:91.05px;font-size:17.3px;line-height:22.49px;color:#1b3a7c;font-weight:bold;width:60px;text-align:center;">50%</div><div class="t" style="left:253.39999999999998px;top:147.98px;font-size:11.9px;line-height:15.47px;color:#1b3a7c;font-weight:bold;width:80px;text-align:center;">输入标题</div><div class="r" style="left:257px;top:166.7px;width:72px;height:0.7px;background:#ebebeb;"></div><div class="t" style="left:257px;top:177.38px;font-size:7.92px;line-height:14.5px;color:#383838;">标题数字等都可以通<br>过点击和重新输入进<br>行更改</div><div class="t" style="left:365.9px;top:91.05px;font-size:17.3px;line-height:22.49px;color:#1b3a7c;font-weight:bold;width:60px;text-align:center;">25%</div><div class="t" style="left:355.9px;top:147.98px;font-size:11.9px;line-height:15.47px;color:#1b3a7c;font-weight:bold;width:80px;text-align:center;">输入标题</div><div class="r" style="left:360px;top:166.7px;width:72px;height:0.7px;background:#ebebeb;"></div><div class="t" style="left:360px;top:177.38px;font-size:7.92px;line-height:14.5px;color:#383838;">标题数字等都可以通<br>过点击和重新输入进<br>行更改</div><div class="t" style="left:18.5px;top:257.54px;font-size:6.65px;line-height:8.65px;color:#a3a3a3;"><span style="font-size:5.9px">吉林警察学院</span> | University Name</div><div class="t" style="left:362px;top:257.67px;font-size:6.4px;line-height:8.32px;color:#a6a6a6;width:100px;text-align:right;">www.pptgenius.com&nbsp; | <span style="color:#777">18</span></div></div>
<div class="s" style="left:485px;top:840px"><div class="h"></div><div class="t" style="left:18.5px;top:4.88px;font-size:15.8px;line-height:20.54px;color:#fff;font-weight:bold;">柱状图</div><svg width="475" height="270"><defs><linearGradient id="b8a" x1="0" y1="0" x2="1" y2="0"><stop offset="0" stop-color="#132f72"/><stop offset="1" stop-color="#1c4590"/></linearGradient><linearGradient id="b8b" x1="0" y1="0" x2="1" y2="0"><stop offset="0" stop-color="#355a9b"/><stop offset="1" stop-color="#4a6fac"/></linearGradient></defs><rect x="51" y="221.70" width="391.5" height="0.6" fill="#dcdcdc"/><rect x="51" y="207.39" width="391.5" height="0.6" fill="#efefef"/><rect x="51" y="193.09" width="391.5" height="0.6" fill="#efefef"/><rect x="51" y="178.78" width="391.5" height="0.6" fill="#efefef"/><rect x="51" y="164.48" width="391.5" height="0.6" fill="#efefef"/><rect x="51" y="150.17" width="391.5" height="0.6" fill="#efefef"/><rect x="51" y="135.86" width="391.5" height="0.6" fill="#efefef"/><rect x="51" y="121.56" width="391.5" height="0.6" fill="#efefef"/><rect x="51" y="107.25" width="391.5" height="0.6" fill="#efefef"/><rect x="51" y="92.95" width="391.5" height="0.6" fill="#efefef"/><rect x="55" y="179.08" width="5.8" height="42.92" fill="url(#b8a)"/><rect x="63" y="182.66" width="5.8" height="39.34" fill="url(#b8b)"/><rect x="71" y="168.35" width="5.8" height="53.65" fill="#7b7b7b"/><rect x="79" y="161.20" width="5.8" height="60.80" fill="#bdbdbd"/><rect x="99" y="164.78" width="5.8" height="57.22" fill="url(#b8a)"/><rect x="107" y="179.08" width="5.8" height="42.92" fill="url(#b8b)"/><rect x="115" y="175.51" width="5.8" height="46.49" fill="#7b7b7b"/><rect x="123" y="166.21" width="5.8" height="55.79" fill="#bdbdbd"/><rect x="143" y="157.62" width="5.8" height="64.38" fill="url(#b8a)"/><rect x="151" y="168.35" width="5.8" height="53.65" fill="url(#b8b)"/><rect x="159" y="180.51" width="5.8" height="41.49" fill="#7b7b7b"/><rect x="167" y="173.36" width="5.8" height="48.64" fill="#bdbdbd"/><rect x="187" y="150.47" width="5.8" height="71.53" fill="url(#b8a)"/><rect x="195" y="157.62" width="5.8" height="64.38" fill="url(#b8b)"/><rect x="203" y="189.10" width="5.8" height="32.90" fill="#7b7b7b"/><rect x="211" y="216.28" width="5.8" height="5.72" fill="#bdbdbd"/><rect x="231" y="136.16" width="5.8" height="85.84" fill="url(#b8a)"/><rect x="239" y="164.78" width="5.8" height="57.22" fill="url(#b8b)"/><rect x="247" y="199.11" width="5.8" height="22.89" fill="#7b7b7b"/><rect x="255" y="204.83" width="5.8" height="17.17" fill="#bdbdbd"/><rect x="275" y="143.32" width="5.8" height="78.68" fill="url(#b8a)"/><rect x="283" y="157.62" width="5.8" height="64.38" fill="url(#b8b)"/><rect x="291" y="183.37" width="5.8" height="38.63" fill="#7b7b7b"/><rect x="299" y="196.25" width="5.8" height="25.75" fill="#bdbdbd"/><rect x="319" y="107.55" width="5.8" height="114.45" fill="url(#b8a)"/><rect x="327" y="153.33" width="5.8" height="68.67" fill="url(#b8b)"/><rect x="335" y="191.96" width="5.8" height="30.04" fill="#7b7b7b"/><rect x="343" y="184.09" width="5.8" height="37.91" fill="#bdbdbd"/><rect x="363" y="114.70" width="5.8" height="107.30" fill="url(#b8a)"/><rect x="371" y="136.16" width="5.8" height="85.84" fill="url(#b8b)"/><rect x="379" y="196.25" width="5.8" height="25.75" fill="#7b7b7b"/><rect x="387" y="191.96" width="5.8" height="30.04" fill="#bdbdbd"/><rect x="407" y="129.01" width="5.8" height="92.99" fill="url(#b8a)"/><rect x="415" y="143.32" width="5.8" height="78.68" fill="url(#b8b)"/><rect x="423" y="177.65" width="5.8" height="44.35" fill="#7b7b7b"/><rect x="431" y="199.11" width="5.8" height="22.89" fill="#bdbdbd"/></svg><div class="t" style="left:176px;top:54.82px;font-size:13.8px;line-height:17.94px;color:#333;">不同年份销量一览表</div><div class="r" style="left:175px;top:82.3px;width:4.4px;height:4.4px;background:#17387f;"></div><div class="t" style="left:181.4px;top:79.45px;font-size:7.6px;line-height:9.88px;color:#383838;">系列1</div><div class="r" style="left:209.6px;top:82.3px;width:4.4px;height:4.4px;background:#3e63a1;"></div><div class="t" style="left:216.0px;top:79.45px;font-size:7.6px;line-height:9.88px;color:#383838;">系列2</div><div class="r" style="left:244.5px;top:82.3px;width:4.4px;height:4.4px;background:#7b7b7b;"></div><div class="t" style="left:250.9px;top:79.45px;font-size:7.6px;line-height:9.88px;color:#383838;">系列3</div><div class="r" style="left:279px;top:82.3px;width:4.4px;height:4.4px;background:#bdbdbd;"></div><div class="t" style="left:285.4px;top:79.45px;font-size:7.6px;line-height:9.88px;color:#383838;">系列4</div><div class="t" style="left:13px;top:218.62px;font-size:5.2px;line-height:6.76px;color:#555;width:30px;text-align:right;">0</div><div class="t" style="left:13px;top:204.31px;font-size:5.2px;line-height:6.76px;color:#555;width:30px;text-align:right;">20</div><div class="t" style="left:13px;top:190.01px;font-size:5.2px;line-height:6.76px;color:#555;width:30px;text-align:right;">40</div><div class="t" style="left:13px;top:175.70px;font-size:5.2px;line-height:6.76px;color:#555;width:30px;text-align:right;">60</div><div class="t" style="left:13px;top:161.40px;font-size:5.2px;line-height:6.76px;color:#555;width:30px;text-align:right;">80</div><div class="t" style="left:13px;top:147.09px;font-size:5.2px;line-height:6.76px;color:#555;width:30px;text-align:right;">100</div><div class="t" style="left:13px;top:132.78px;font-size:5.2px;line-height:6.76px;color:#555;width:30px;text-align:right;">120</div><div class="t" style="left:13px;top:118.48px;font-size:5.2px;line-height:6.76px;color:#555;width:30px;text-align:right;">140</div><div class="t" style="left:13px;top:104.17px;font-size:5.2px;line-height:6.76px;color:#555;width:30px;text-align:right;">160</div><div class="t" style="left:13px;top:89.87px;font-size:5.2px;line-height:6.76px;color:#555;width:30px;text-align:right;">180</div><div class="t" style="left:49.9px;top:171.21px;font-size:5.5px;line-height:7.15px;color:#333;width:16px;text-align:center;">60</div><div class="t" style="left:57.900000000000006px;top:174.78px;font-size:5.5px;line-height:7.15px;color:#333;width:16px;text-align:center;">55</div><div class="t" style="left:65.9px;top:160.48px;font-size:5.5px;line-height:7.15px;color:#333;width:16px;text-align:center;">75</div><div class="t" style="left:73.9px;top:153.32px;font-size:5.5px;line-height:7.15px;color:#333;width:16px;text-align:center;">85</div><div class="t" style="left:55px;top:228.72px;font-size:7.2px;line-height:9.36px;color:#333;width:30px;text-align:center;">2010</div><div class="t" style="left:93.9px;top:156.90px;font-size:5.5px;line-height:7.15px;color:#333;width:16px;text-align:center;">80</div><div class="t" style="left:101.9px;top:171.21px;font-size:5.5px;line-height:7.15px;color:#333;width:16px;text-align:center;">60</div><div class="t" style="left:109.9px;top:167.63px;font-size:5.5px;line-height:7.15px;color:#333;width:16px;text-align:center;">65</div><div class="t" style="left:117.9px;top:158.33px;font-size:5.5px;line-height:7.15px;color:#333;width:16px;text-align:center;">78</div><div class="t" style="left:99px;top:228.72px;font-size:7.2px;line-height:9.36px;color:#333;width:30px;text-align:center;">2012</div><div class="t" style="left:137.9px;top:149.75px;font-size:5.5px;line-height:7.15px;color:#333;width:16px;text-align:center;">90</div><div class="t" style="left:145.9px;top:160.48px;font-size:5.5px;line-height:7.15px;color:#333;width:16px;text-align:center;">75</div><div class="t" style="left:153.9px;top:172.64px;font-size:5.5px;line-height:7.15px;color:#333;width:16px;text-align:center;">58</div><div class="t" style="left:161.9px;top:165.48px;font-size:5.5px;line-height:7.15px;color:#333;width:16px;text-align:center;">68</div><div class="t" style="left:143px;top:228.72px;font-size:7.2px;line-height:9.36px;color:#333;width:30px;text-align:center;">2014</div><div class="t" style="left:181.9px;top:142.59px;font-size:5.5px;line-height:7.15px;color:#333;width:16px;text-align:center;">100</div><div class="t" style="left:189.9px;top:149.75px;font-size:5.5px;line-height:7.15px;color:#333;width:16px;text-align:center;">90</div><div class="t" style="left:197.9px;top:181.22px;font-size:5.5px;line-height:7.15px;color:#333;width:16px;text-align:center;">46</div><div class="t" style="left:205.9px;top:208.40px;font-size:5.5px;line-height:7.15px;color:#333;width:16px;text-align:center;">8</div><div class="t" style="left:187px;top:228.72px;font-size:7.2px;line-height:9.36px;color:#333;width:30px;text-align:center;">2016</div><div class="t" style="left:225.9px;top:128.29px;font-size:5.5px;line-height:7.15px;color:#333;width:16px;text-align:center;">120</div><div class="t" style="left:233.9px;top:156.90px;font-size:5.5px;line-height:7.15px;color:#333;width:16px;text-align:center;">80</div><div class="t" style="left:241.9px;top:191.24px;font-size:5.5px;line-height:7.15px;color:#333;width:16px;text-align:center;">32</div><div class="t" style="left:249.89999999999998px;top:196.96px;font-size:5.5px;line-height:7.15px;color:#333;width:16px;text-align:center;">24</div><div class="t" style="left:231px;top:228.72px;font-size:7.2px;line-height:9.36px;color:#333;width:30px;text-align:center;">2018</div><div class="t" style="left:269.9px;top:135.44px;font-size:5.5px;line-height:7.15px;color:#333;width:16px;text-align:center;">110</div><div class="t" style="left:277.9px;top:149.75px;font-size:5.5px;line-height:7.15px;color:#333;width:16px;text-align:center;">90</div><div class="t" style="left:285.9px;top:175.50px;font-size:5.5px;line-height:7.15px;color:#333;width:16px;text-align:center;">54</div><div class="t" style="left:293.9px;top:188.37px;font-size:5.5px;line-height:7.15px;color:#333;width:16px;text-align:center;">36</div><div class="t" style="left:275px;top:228.72px;font-size:7.2px;line-height:9.36px;color:#333;width:30px;text-align:center;">2020</div><div class="t" style="left:313.9px;top:99.68px;font-size:5.5px;line-height:7.15px;color:#333;width:16px;text-align:center;">160</div><div class="t" style="left:321.9px;top:145.46px;font-size:5.5px;line-height:7.15px;color:#333;width:16px;text-align:center;">96</div><div class="t" style="left:329.9px;top:184.08px;font-size:5.5px;line-height:7.15px;color:#333;width:16px;text-align:center;">42</div><div class="t" style="left:337.9px;top:176.21px;font-size:5.5px;line-height:7.15px;color:#333;width:16px;text-align:center;">53</div><div class="t" style="left:319px;top:228.72px;font-size:7.2px;line-height:9.36px;color:#333;width:30px;text-align:center;">2022</div><div class="t" style="left:357.9px;top:106.83px;font-size:5.5px;line-height:7.15px;color:#333;width:16px;text-align:center;">150</div><div class="t" style="left:365.9px;top:128.29px;font-size:5.5px;line-height:7.15px;color:#333;width:16px;text-align:center;">120</div><div class="t" style="left:373.9px;top:188.37px;font-size:5.5px;line-height:7.15px;color:#333;width:16px;text-align:center;">36</div><div class="t" style="left:381.9px;top:184.08px;font-size:5.5px;line-height:7.15px;color:#333;width:16px;text-align:center;">42</div><div class="t" style="left:363px;top:228.72px;font-size:7.2px;line-height:9.36px;color:#333;width:30px;text-align:center;">2024</div><div class="t" style="left:401.9px;top:121.14px;font-size:5.5px;line-height:7.15px;color:#333;width:16px;text-align:center;">130</div><div class="t" style="left:409.9px;top:135.44px;font-size:5.5px;line-height:7.15px;color:#333;width:16px;text-align:center;">110</div><div class="t" style="left:417.9px;top:169.78px;font-size:5.5px;line-height:7.15px;color:#333;width:16px;text-align:center;">62</div><div class="t" style="left:425.9px;top:191.24px;font-size:5.5px;line-height:7.15px;color:#333;width:16px;text-align:center;">32</div><div class="t" style="left:407px;top:228.72px;font-size:7.2px;line-height:9.36px;color:#333;width:30px;text-align:center;">2026</div><div class="t" style="left:18.5px;top:257.54px;font-size:6.65px;line-height:8.65px;color:#a3a3a3;"><span style="font-size:5.9px">吉林警察学院</span> | University Name</div><div class="t" style="left:362px;top:257.67px;font-size:6.4px;line-height:8.32px;color:#a6a6a6;width:100px;text-align:right;">www.pptgenius.com&nbsp; | <span style="color:#777">19</span></div></div>
<div class="s" style="left:0px;top:1120px"><div class="h"></div><div class="t" style="left:18.5px;top:4.88px;font-size:15.8px;line-height:20.54px;color:#fff;font-weight:bold;">立体图表</div><svg width="475" height="270"><line x1="88" y1="64.50" x2="420" y2="64.50" stroke="#e4e4e4" stroke-width="0.8"/><line x1="61.25" y1="77.50" x2="88" y2="64.50" stroke="#e4e4e4" stroke-width="0.8"/><line x1="88" y1="79.60" x2="420" y2="79.60" stroke="#e4e4e4" stroke-width="0.8"/><line x1="61.25" y1="92.60" x2="88" y2="79.60" stroke="#e4e4e4" stroke-width="0.8"/><line x1="88" y1="94.70" x2="420" y2="94.70" stroke="#e4e4e4" stroke-width="0.8"/><line x1="61.25" y1="107.70" x2="88" y2="94.70" stroke="#e4e4e4" stroke-width="0.8"/><line x1="88" y1="109.80" x2="420" y2="109.80" stroke="#e4e4e4" stroke-width="0.8"/><line x1="61.25" y1="122.80" x2="88" y2="109.80" stroke="#e4e4e4" stroke-width="0.8"/><line x1="88" y1="124.90" x2="420" y2="124.90" stroke="#e4e4e4" stroke-width="0.8"/><line x1="61.25" y1="137.90" x2="88" y2="124.90" stroke="#e4e4e4" stroke-width="0.8"/><line x1="88" y1="140.00" x2="420" y2="140.00" stroke="#e4e4e4" stroke-width="0.8"/><line x1="61.25" y1="153.00" x2="88" y2="140.00" stroke="#e4e4e4" stroke-width="0.8"/><line x1="61.25" y1="77.5" x2="61.25" y2="153" stroke="#e4e4e4" stroke-width="0.8"/><line x1="61.25" y1="153" x2="393.5" y2="153" stroke="#e4e4e4" stroke-width="0.8"/><line x1="393.5" y1="153" x2="420" y2="140" stroke="#e4e4e4" stroke-width="0.8"/><line x1="420" y1="64.5" x2="420" y2="140" stroke="#efefef" stroke-width="0.6"/><polygon points="102.5,71.8 97.48,96.6 104.92,96.89999999999999 107.52,95.25" fill="#bdbdbd"/><polygon points="102.5,71.8 97.48,96.6 104.92,96.89999999999999" fill="#dcdcdc"/><polygon points="97.48,96.6 104.92,96.6 107.52,95.25 118.1,144.6 110.0,148.8 86.9,148.8" fill="#153b80"/><polygon points="97.48,96.6 104.92,96.6 110.0,148.8 86.9,148.8" fill="#1b4b9b"/><polygon points="97.48,96.0 104.92,96.0 107.52,94.65 107.62,95.95 105.12,97.5 97.28,97.5" fill="#a9bddd" opacity="0.7"/><polygon points="158.1,71.8 149.45,114.5 162.26,114.8 166.75,112.17" fill="#bdbdbd"/><polygon points="158.1,71.8 149.45,114.5 162.26,114.8" fill="#dcdcdc"/><polygon points="149.45,114.5 162.26,114.5 166.75,112.17 173.7,144.6 165.6,148.8 142.5,148.8" fill="#20488b"/><polygon points="149.45,114.5 162.26,114.5 165.6,148.8 142.5,148.8" fill="#2958a3"/><polygon points="149.45,113.9 162.26,113.9 166.75,111.57 166.85,112.87 162.46,115.4 149.25,115.4" fill="#a9bddd" opacity="0.7"/><polygon points="213.7,71.8 206.47,107.5 217.18,107.8 220.93,105.55" fill="#bdbdbd"/><polygon points="213.7,71.8 206.47,107.5 217.18,107.8" fill="#dcdcdc"/><polygon points="206.47,107.5 217.18,107.5 220.93,105.55 229.29999999999998,144.6 221.2,148.8 198.1,148.8" fill="#2c5395"/><polygon points="206.47,107.5 217.18,107.5 221.2,148.8 198.1,148.8" fill="#3564ab"/><polygon points="206.47,106.9 217.18,106.9 220.93,104.95 221.03,106.25 217.38,108.4 206.27,108.4" fill="#a9bddd" opacity="0.7"/><polygon points="269.3,71.8 259.28,121.25 274.12,121.55 279.32,118.55" fill="#bdbdbd"/><polygon points="269.3,71.8 259.28,121.25 274.12,121.55" fill="#dcdcdc"/><polygon points="259.28,121.25 274.12,121.25 279.32,118.55 284.90000000000003,144.6 276.8,148.8 253.70000000000002,148.8" fill="#4467a4"/><polygon points="259.28,121.25 274.12,121.25 276.8,148.8 253.70000000000002,148.8" fill="#4f78b7"/><polygon points="259.28,120.65 274.12,120.65 279.32,117.95 279.42,119.25 274.32,122.15 259.08,122.15" fill="#a9bddd" opacity="0.7"/><polygon points="324.9,71.8 313.36,128.75 330.45,129.05 336.44,125.64" fill="#bdbdbd"/><polygon points="324.9,71.8 313.36,128.75 330.45,129.05" fill="#dcdcdc"/><polygon points="313.36,128.75 330.45,128.75 336.44,125.64 340.5,144.6 332.4,148.8 309.29999999999995,148.8" fill="#5a79b0"/><polygon points="313.36,128.75 330.45,128.75 332.4,148.8 309.29999999999995,148.8" fill="#688bc3"/><polygon points="313.36,128.15 330.45,128.15 336.44,125.04 336.54,126.34 330.65,129.65 313.16,129.65" fill="#a9bddd" opacity="0.7"/><polygon points="380.5,71.8 375.55,96.25 382.88,96.55 385.45,94.92" fill="#bdbdbd"/><polygon points="380.5,71.8 375.55,96.25 382.88,96.55" fill="#dcdcdc"/><polygon points="375.55,96.25 382.88,96.25 385.45,94.92 396.1,144.6 388.0,148.8 364.9,148.8" fill="#6d8abd"/><polygon points="375.55,96.25 382.88,96.25 388.0,148.8 364.9,148.8" fill="#7d9bcc"/><polygon points="375.55,95.65 382.88,95.65 385.45,94.32 385.55,95.62 383.08,97.15 375.35,97.15" fill="#a9bddd" opacity="0.7"/></svg><div class="t" style="left:74.4px;top:160.09px;font-size:5.6px;line-height:7.28px;color:#666;width:30px;text-align:center;">分类1</div><div class="t" style="left:130.0px;top:160.09px;font-size:5.6px;line-height:7.28px;color:#666;width:30px;text-align:center;">分类2</div><div class="t" style="left:185.6px;top:160.09px;font-size:5.6px;line-height:7.28px;color:#666;width:30px;text-align:center;">分类3</div><div class="t" style="left:241.2px;top:160.09px;font-size:5.6px;line-height:7.28px;color:#666;width:30px;text-align:center;">分类4</div><div class="t" style="left:296.79999999999995px;top:160.09px;font-size:5.6px;line-height:7.28px;color:#666;width:30px;text-align:center;">分类5</div><div class="t" style="left:352.4px;top:160.09px;font-size:5.6px;line-height:7.28px;color:#666;width:30px;text-align:center;">分类6</div><div class="t" style="left:27px;top:74.62px;font-size:5.2px;line-height:6.76px;color:#8a8a8a;width:30px;text-align:right;">100%</div><div class="t" style="left:27px;top:89.72px;font-size:5.2px;line-height:6.76px;color:#8a8a8a;width:30px;text-align:right;">80%</div><div class="t" style="left:27px;top:104.82px;font-size:5.2px;line-height:6.76px;color:#8a8a8a;width:30px;text-align:right;">60%</div><div class="t" style="left:27px;top:119.92px;font-size:5.2px;line-height:6.76px;color:#8a8a8a;width:30px;text-align:right;">40%</div><div class="t" style="left:27px;top:135.02px;font-size:5.2px;line-height:6.76px;color:#8a8a8a;width:30px;text-align:right;">20%</div><div class="t" style="left:27px;top:150.12px;font-size:5.2px;line-height:6.76px;color:#8a8a8a;width:30px;text-align:right;">0%</div><div class="t" style="left:65px;top:188.98px;font-size:11.9px;line-height:15.47px;color:#1b3a7c;font-weight:bold;">点击此处添加标题</div><div class="t" style="left:65px;top:207.80px;font-size:8.05px;line-height:14.5px;color:#383838;">标题数字等都可以通过点击和重新输入进<br>行更改，顶部<span class="q ql">“</span>开始<span class="q qr">”</span>面板中可以修改</div><div class="t" style="left:261px;top:188.98px;font-size:11.9px;line-height:15.47px;color:#1b3a7c;font-weight:bold;">点击此处添加标题</div><div class="t" style="left:261px;top:207.80px;font-size:8.05px;line-height:14.5px;color:#383838;">标题数字等都可以通过点击和重新输入进<br>行更改，顶部<span class="q ql">“</span>开始<span class="q qr">”</span>面板中可以修改</div><div class="t" style="left:18.5px;top:257.54px;font-size:6.65px;line-height:8.65px;color:#a3a3a3;"><span style="font-size:5.9px">吉林警察学院</span> | University Name</div><div class="t" style="left:362px;top:257.67px;font-size:6.4px;line-height:8.32px;color:#a6a6a6;width:100px;text-align:right;">www.pptgenius.com&nbsp; | <span style="color:#777">20</span></div></div>
<div class="s" style="left:485px;top:1120px"><div class="h"></div><div class="t" style="left:18.5px;top:4.88px;font-size:15.8px;line-height:20.54px;color:#fff;font-weight:bold;">4部分并列关系</div><svg width="475" height="270"><path d="M242.85,66.06 A79.9,79.9 0 0 1 317.41,152.65 L280.45,152.65 A43.2,43.2 0 0 0 242.85,102.90 Z" fill="#bfbfbf"/><path d="M317.08,155.75 A79.9,79.9 0 0 1 237.95,225.70 L237.95,189.00 A43.2,43.2 0 0 0 279.84,155.75 Z" fill="#8c8c8c"/><path d="M234.85,225.65 A79.9,79.9 0 0 1 157.95,148.75 L194.70,148.75 A43.2,43.2 0 0 0 234.85,188.90 Z" fill="#595959"/><path d="M157.90,145.65 A79.9,79.9 0 0 1 239.75,65.92 L239.75,102.64 A43.2,43.2 0 0 0 194.60,145.65 Z" fill="#144488"/><g transform="translate(241.30,84.60) rotate(0)"><path d="M1.35,-4.2 L4.95,0 L1.35,4.2 Z" fill="#fff"/><path d="M-1.85,-2.7 L2.45,0 L-1.85,2.7 Z" fill="#144488"/></g><g transform="translate(298.00,154.20) rotate(90)"><path d="M1.35,-4.2 L4.95,0 L1.35,4.2 Z" fill="#fff"/><path d="M-1.85,-2.7 L2.45,0 L-1.85,2.7 Z" fill="#bfbfbf"/></g><g transform="translate(236.40,207.90) rotate(180)"><path d="M1.35,-4.2 L4.95,0 L1.35,4.2 Z" fill="#fff"/><path d="M-1.85,-2.7 L2.45,0 L-1.85,2.7 Z" fill="#8c8c8c"/></g><g transform="translate(176.90,147.20) rotate(270)"><path d="M1.35,-4.2 L4.95,0 L1.35,4.2 Z" fill="#fff"/><path d="M-1.85,-2.7 L2.45,0 L-1.85,2.7 Z" fill="#595959"/></g></svg><div class="t" style="left:243.10000000000002px;top:76.12px;font-size:19.2px;line-height:24.96px;color:#fff;font-weight:bold;width:40px;text-align:center;">01</div><div class="t" style="left:273.3px;top:160.12px;font-size:19.2px;line-height:24.96px;color:#fff;font-weight:bold;width:40px;text-align:center;">02</div><div class="t" style="left:196.1px;top:193.72px;font-size:19.2px;line-height:24.96px;color:#fff;font-weight:bold;width:40px;text-align:center;">03</div><div class="t" style="left:155.2px;top:118.82px;font-size:19.2px;line-height:24.96px;color:#fff;font-weight:bold;width:40px;text-align:center;">04</div><div class="t" style="left:258.9px;top:110.97px;font-size:9.2px;line-height:11.96px;color:#fff;font-weight:bold;width:60px;text-align:center;transform:rotate(56deg);letter-spacing:1.3px;text-indent:1.3px;opacity:0.78;">添加标题</div><div class="t" style="left:238.75px;top:189.37px;font-size:9.2px;line-height:11.96px;color:#fff;font-weight:bold;width:60px;text-align:center;transform:rotate(-34deg);letter-spacing:1.3px;text-indent:1.3px;opacity:1;">添加标题</div><div class="t" style="left:161.25px;top:173.87px;font-size:9.2px;line-height:11.96px;color:#fff;font-weight:bold;width:60px;text-align:center;transform:rotate(49.5deg);letter-spacing:1.3px;text-indent:1.3px;opacity:1;">添加标题</div><div class="t" style="left:167.5px;top:96.57px;font-size:9.2px;line-height:11.96px;color:#fff;font-weight:bold;width:60px;text-align:center;transform:rotate(-40deg);letter-spacing:1.3px;text-indent:1.3px;opacity:1;">添加标题</div><div class="t" style="left:26.5px;top:74.62px;font-size:11.65px;line-height:15.15px;color:#1b3a7c;font-weight:bold;width:120px;text-align:right;">点击此处添加标题</div><div class="t" style="left:26.5px;top:93.26px;font-size:7.78px;line-height:14.5px;color:#383838;width:120px;text-align:right;">标题数字等都可以通过点击和<br>重新输入进行更改</div><div class="t" style="left:334.3px;top:74.60px;font-size:11.7px;line-height:15.21px;color:#222;font-weight:bold;">点击此处添加标题</div><div class="t" style="left:334px;top:93.26px;font-size:7.78px;line-height:14.5px;color:#383838;">标题数字等都可以通过点击和<br>重新输入进行更改</div><div class="t" style="left:26.5px;top:178.62px;font-size:11.65px;line-height:15.15px;color:#1b3a7c;font-weight:bold;width:120px;text-align:right;">点击此处添加标题</div><div class="t" style="left:26.5px;top:197.26px;font-size:7.78px;line-height:14.5px;color:#383838;width:120px;text-align:right;">标题数字等都可以通过点击和<br>重新输入进行更改</div><div class="t" style="left:334.3px;top:178.60px;font-size:11.7px;line-height:15.21px;color:#222;font-weight:bold;">点击此处添加标题</div><div class="t" style="left:334px;top:197.26px;font-size:7.78px;line-height:14.5px;color:#383838;">标题数字等都可以通过点击和<br>重新输入进行更改</div><div class="t" style="left:18.5px;top:257.54px;font-size:6.65px;line-height:8.65px;color:#a3a3a3;"><span style="font-size:5.9px">吉林警察学院</span> | University Name</div><div class="t" style="left:362px;top:257.67px;font-size:6.4px;line-height:8.32px;color:#a6a6a6;width:100px;text-align:right;">www.pptgenius.com&nbsp; | <span style="color:#777">21</span></div></div>
</body></html>
